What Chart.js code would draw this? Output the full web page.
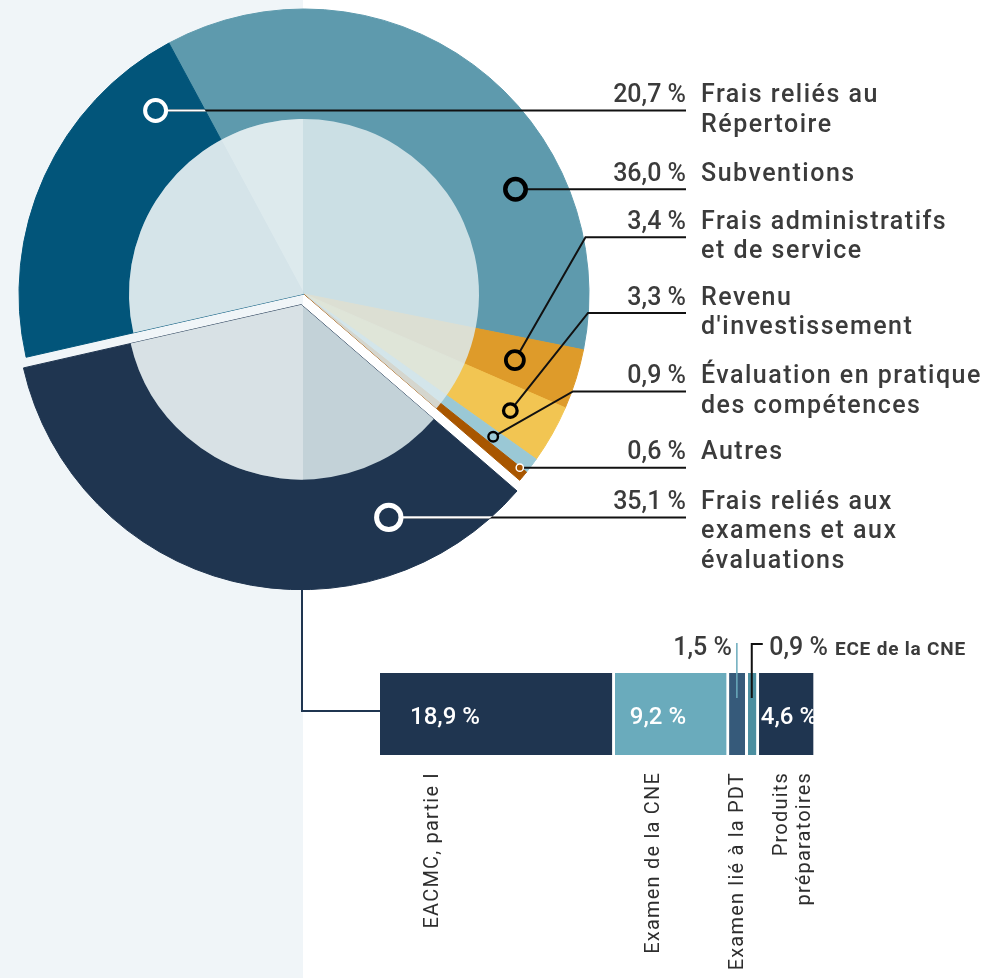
<!DOCTYPE html>
<html><head><meta charset="utf-8">
<script src="https://cdn.jsdelivr.net/npm/chart.js@4.4.0/dist/chart.umd.min.js"></script>
<style>
html,body{margin:0;padding:0;}
body{width:992px;height:978px;position:relative;overflow:hidden;
 background:linear-gradient(to right,#f0f5f8 0,#f0f5f8 303px,#ffffff 303px,#ffffff 100%);}
#pie{position:absolute;left:0;top:0;}
#bar{position:absolute;left:370px;top:620px;}
</style></head><body>
<canvas id="pie" width="992" height="978"></canvas>
<canvas id="bar" width="622" height="358"></canvas>
<script>
// ---------- DATA ----------
const categories = ['Subventions','Frais administratifs et de service',"Revenu d'investissement",'Évaluation en pratique des compétences','Autres','Frais reliés aux examens et aux évaluations','Frais reliés au Répertoire'];
const values = [36.0, 3.4, 3.3, 0.9, 0.6, 35.1, 20.7];
const categoryLines = [['Subventions'],['Frais administratifs','et de service'],['Revenu',"d'investissement"],['Évaluation en pratique','des compétences'],['Autres'],['Frais reliés aux','examens et aux','évaluations'],['Frais reliés au','Répertoire']];
const examCategories = ['EACMC, partie I','Examen de la CNE','Examen lié à la PDT','ECE de la CNE','Produits préparatoires'];
const examValues = [18.9, 9.2, 1.5, 0.9, 4.6];
const examLines = [['EACMC, partie I'],['Examen de la CNE'],['Examen lié à la PDT'],null,['Produits','préparatoires']];

// ---------- STYLE ----------
const PIE_COLORS = ['#5e9aad','#de9b2a','#f2c552','#9ac8d5','#a85600','#1f3550','#02557a'];
const BAR_COLORS = ['#1f3550','#6aabbc','#365a7a','#4b8fa0','#1f3550'];
const EXPLODE_INDEX = 5, EXPLODE_PX = 11, INNER_R = 175, PANEL_X = 303;
const TEXT = '#3b3b3b';
const fmt = v => v.toFixed(1).replace('.', ',') + ' %';

const callouts = [
  {i:0, lineY:189.3, mode:'h', r:236, ring:'#000', rr:10.2, lw:4.5},
  {i:1, lineY:237.3, mode:'d', r:221, knee:585.5, ring:'#000', rr:9, lw:3.8},
  {i:2, lineY:313,   mode:'d', r:237, knee:588, ring:'#000', rr:6.8, lw:3.3},
  {i:3, lineY:391.5, mode:'d', r:237, knee:573, ring:'#000', rr:4.8, lw:2.4},
  {i:4, lineY:467.7, mode:'h', r:277, ring:'#fff', rr:3.6, lw:1.5},
  {i:5, lineY:517.4, mode:'h', r:230, ring:'#fff', rr:12.2, lw:5, light:true},
  {i:6, lineY:110.5, mode:'h', r:236, ring:'#fff', rr:10.5, lw:4, light:true}
];
const LINE_END = 686, NAME_X = 701, LINE_STEP = 29.5;

function inArc(a, s, e){ const T=Math.PI*2; let d=((a-s)%T+T)%T; return d <= (e-s); }
function wedge(ctx, arc, r){ ctx.beginPath(); ctx.moveTo(arc.x, arc.y); ctx.arc(arc.x, arc.y, r, arc.startAngle, arc.endAngle); ctx.closePath(); }

const explodePlugin = {
  id:'explode',
  beforeDatasetsDraw(chart){
    const ca = chart.chartArea, cx=(ca.left+ca.right)/2, cy=(ca.top+ca.bottom)/2;
    const arc = chart.getDatasetMeta(0).data[EXPLODE_INDEX];
    const mid = (arc.startAngle+arc.endAngle)/2;
    arc.x = cx + Math.cos(mid)*EXPLODE_PX; arc.y = cy + Math.sin(mid)*EXPLODE_PX;
  }
};

const overlayPlugin = {
  id:'overlay',
  afterDatasetsDraw(chart){
    const ctx = chart.ctx, arcs = chart.getDatasetMeta(0).data;
    const ex = arcs[EXPLODE_INDEX];
    const ca = chart.chartArea, cx=(ca.left+ca.right)/2, cy=(ca.top+ca.bottom)/2;
    const paths = [
      c => { c.beginPath(); c.moveTo(cx,cy); c.arc(cx,cy,INNER_R,ex.endAngle,ex.startAngle+Math.PI*2); c.closePath(); },
      c => wedge(c, ex, INNER_R)
    ];
    ctx.save();
    paths.forEach(p => { p(ctx); ctx.fillStyle='rgba(219,233,237,0.87)'; ctx.fill(); });
    ctx.beginPath(); ctx.rect(0,0,PANEL_X,chart.height); ctx.clip();
    paths.forEach(p => { p(ctx); ctx.fillStyle='rgba(255,255,255,0.35)'; ctx.fill(); });
    ctx.restore();
  }
};

const annotatePlugin = {
  id:'annotate',
  afterDraw(chart){
    const ctx = chart.ctx, arcs = chart.getDatasetMeta(0).data;
    const pts = callouts.map(c => {
      const arc = arcs[c.i];
      let mx, my;
      if (c.mode === 'd') {
        const mid = (arc.startAngle+arc.endAngle)/2;
        mx = arc.x + Math.cos(mid)*c.r; my = arc.y + Math.sin(mid)*c.r;
      } else {
        const dy = c.lineY - arc.y, dx = Math.sqrt(Math.max(c.r*c.r - dy*dy, 0));
        const a1 = Math.atan2(dy, dx);
        mx = inArc(a1, arc.startAngle, arc.endAngle) ? arc.x + dx : arc.x - dx; my = c.lineY;
      }
      return {mx, my};
    });
    callouts.forEach((c,k) => {
      const {mx,my} = pts[k], arc = arcs[c.i];
      const path = () => { ctx.beginPath(); ctx.moveTo(mx,my); if (c.mode==='d') ctx.lineTo(c.knee, c.lineY); ctx.lineTo(LINE_END, c.lineY); };
      ctx.save(); ctx.lineWidth = 2; ctx.strokeStyle = '#111'; path(); ctx.stroke(); ctx.restore();
      if (c.light) {
        ctx.save(); wedge(ctx, arc, arc.outerRadius); ctx.clip();
        ctx.lineWidth = 2.2; ctx.strokeStyle = '#ffffff'; path(); ctx.stroke(); ctx.restore();
      }
    });
    callouts.forEach((c,k) => {
      const {mx,my} = pts[k];
      ctx.save(); ctx.beginPath(); ctx.arc(mx,my,c.rr,0,Math.PI*2);
      ctx.fillStyle = PIE_COLORS[c.i]; ctx.fill();
      ctx.lineWidth = c.lw; ctx.strokeStyle = c.ring; ctx.stroke(); ctx.restore();
    });
    callouts.forEach(c => {
      const base = c.lineY - 8.5;
      ctx.save(); ctx.fillStyle = TEXT; ctx.textBaseline = 'alphabetic';
      ctx.font = '500 25px Roboto'; ctx.letterSpacing = '0px'; ctx.textAlign = 'right';
      ctx.fillText(fmt(values[c.i]), LINE_END, base);
      ctx.textAlign = 'left'; ctx.letterSpacing = '1.5px';
      categoryLines[c.i].forEach((t,j) => ctx.fillText(t, NAME_X, base + j*LINE_STEP));
      ctx.restore();
    });
    ctx.save(); ctx.strokeStyle = '#1f3550'; ctx.lineWidth = 2;
    ctx.beginPath(); ctx.moveTo(302, 560); ctx.lineTo(302, 711); ctx.lineTo(380, 711); ctx.stroke(); ctx.restore();
  }
};

new Chart(document.getElementById('pie'), {
  type: 'pie',
  data: { labels: categories, datasets: [{ data: values, backgroundColor: PIE_COLORS, borderColor: PIE_COLORS, borderWidth: 1 }] },
  options: {
    responsive: false, animation: false, events: [],
    rotation: -28.3, radius: 285,
    layout: { padding: { left: 0, top: 0, right: 992-608, bottom: 978-588 } },
    plugins: { legend: { display: false }, tooltip: { enabled: false } }
  },
  plugins: [explodePlugin, overlayPlugin, annotatePlugin]
});

// ---------- BREAKDOWN BAR ----------
const examTotal = examValues.reduce((a,b)=>a+b,0);
const INSIDE_PAD = [30, 15, null, null, 2];
const ROT_OFFSET = [58, 44, 14, null, 28];

const barLabelPlugin = {
  id:'barLabels',
  afterDraw(chart){
    const ctx = chart.ctx, ca = chart.chartArea;
    examValues.forEach((v,k) => {
      const el = chart.getDatasetMeta(k).data[0];
      const start = el.base, end = el.x, cxv = (start + end - 3)/2;
      ctx.save();
      if (INSIDE_PAD[k] !== null) {
        ctx.fillStyle = '#ffffff'; ctx.font = '500 24px Roboto'; ctx.textAlign = 'left';
        ctx.fillText(fmt(v), start + INSIDE_PAD[k], el.y + 10);
      } else if (k === 2) {
        ctx.strokeStyle = '#6aabbc'; ctx.lineWidth = 1.5;
        ctx.beginPath(); ctx.moveTo(cxv, ca.top - 30); ctx.lineTo(cxv, ca.top + 25); ctx.stroke();
        ctx.fillStyle = TEXT; ctx.font = '500 25px Roboto'; ctx.textAlign = 'right';
        ctx.fillText(fmt(v), cxv - 5, ca.top - 18);
      } else if (k === 3) {
        ctx.strokeStyle = '#111'; ctx.lineWidth = 2;
        ctx.beginPath(); ctx.moveTo(cxv, ca.top + 25); ctx.lineTo(cxv, ca.top - 29); ctx.lineTo(cxv + 11, ca.top - 29); ctx.stroke();
        ctx.fillStyle = TEXT; ctx.font = '500 25px Roboto'; ctx.textAlign = 'left';
        const t = fmt(v); ctx.fillText(t, cxv + 17.5, ca.top - 18);
        const w = ctx.measureText(t).width;
        ctx.font = 'bold 19px Roboto'; ctx.letterSpacing = '0.8px';
        ctx.fillText(examCategories[k], cxv + 17.5 + w + 7, ca.top - 18);
      }
      ctx.restore();
      if (examLines[k]) {
        examLines[k].forEach((t,j) => {
          ctx.save(); ctx.translate(start + ROT_OFFSET[k] + j*23, ca.bottom + 17); ctx.rotate(-Math.PI/2);
          ctx.fillStyle = '#2e2e2e'; ctx.font = '400 20px Roboto'; ctx.letterSpacing = '1.2px'; ctx.textAlign = 'right';
          ctx.fillText(t, 0, 0); ctx.restore();
        });
      }
    });
  }
};

new Chart(document.getElementById('bar'), {
  type: 'bar',
  data: {
    labels: [categories[EXPLODE_INDEX]],
    datasets: examValues.map((v,k) => ({
      label: examCategories[k], data: [v], backgroundColor: BAR_COLORS[k],
      borderColor: '#ffffff', borderWidth: {top:0, left:0, bottom:0, right:3}, borderSkipped: false,
      barPercentage: 1, categoryPercentage: 1
    }))
  },
  options: {
    indexAxis: 'y', responsive: false, animation: false, events: [],
    layout: { padding: { left: 10, right: 176, top: 53, bottom: 223 } },
    scales: { x: { stacked: true, min: 0, max: examTotal, display: false }, y: { stacked: true, display: false } },
    plugins: { legend: { display: false }, tooltip: { enabled: false } }
  },
  plugins: [barLabelPlugin]
});
</script>
</body></html>
